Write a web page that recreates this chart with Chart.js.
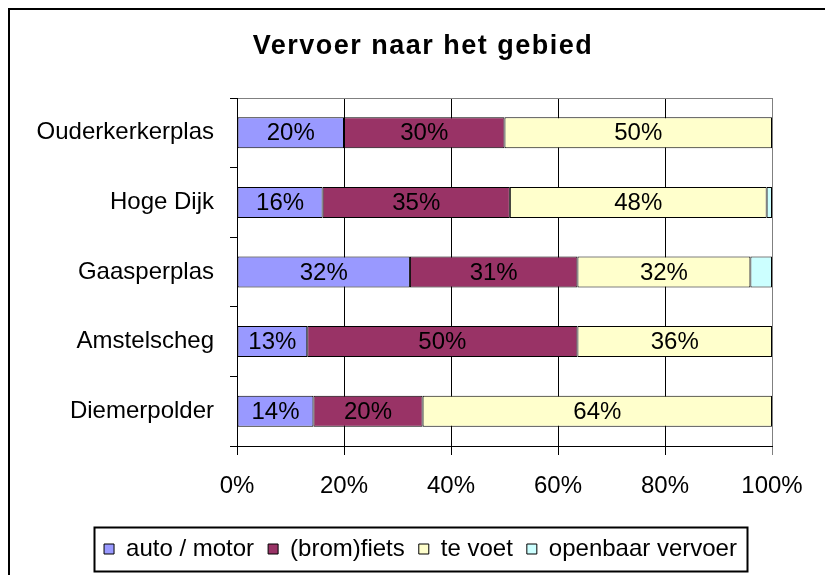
<!DOCTYPE html>
<html>
<head>
<meta charset="utf-8">
<script src="https://cdn.jsdelivr.net/npm/chart.js@4/dist/chart.umd.min.js"></script>
<style>
  html, body { margin: 0; padding: 0; background: #fff; overflow: hidden; }
  #wrap { width: 825px; height: 575px; }
</style>
</head>
<body>
<div id="wrap"><canvas id="chart" width="825" height="575"></canvas></div>
<script>
// categorieën (van boven naar beneden)
const gebieden = ['Ouderkerkerplas', 'Hoge Dijk', 'Gaasperplas', 'Amstelscheg', 'Diemerpolder'];

// percentages per vervoerswijze (zoals in het plaatje)
const autoMotor = [20, 16, 32, 13, 14];
const bromFiets = [30, 35, 31, 50, 20];
const teVoet = [50, 48, 32, 36, 64];
const openbaarVervoer = [0, 1, 4, 0, 0];

const xTicks = [0, 20, 40, 60, 80, 100];

const titel = 'Vervoer naar het gebied';

const series = [
  { label: 'auto / motor', values: autoMotor, color: '#9999FF', showLabel: true },
  { label: '(brom)fiets', values: bromFiets, color: '#993366', showLabel: true },
  { label: 'te voet', values: teVoet, color: '#FFFFCC', showLabel: true },
  { label: 'openbaar vervoer', values: openbaarVervoer, color: '#CCFFFF', showLabel: false }
];

// 100% gestapeld: elke rij naar 100 schalen
const totals = gebieden.map((g, i) => series.reduce((s, d) => s + d.values[i], 0));

const FONT = "'Liberation Sans', Arial, sans-serif";
Chart.defaults.font.family = FONT;
Chart.defaults.color = '#000';

// witte achtergrond + kader
const frame = {
  id: 'frame',
  beforeDraw(chart) {
    const ctx = chart.ctx;
    ctx.save();
    ctx.fillStyle = '#fff';
    ctx.fillRect(0, 0, chart.width, chart.height);
    ctx.strokeStyle = '#000';
    ctx.lineWidth = 2;
    ctx.beginPath();
    ctx.moveTo(9, chart.height + 5);
    ctx.lineTo(9, 9);
    ctx.lineTo(chart.width + 5, 9);
    ctx.stroke();
    ctx.restore();
  }
};

// titel met wat letterafstand (Chart.js title kan dat niet)
const titlePlugin = {
  id: 'titlePlugin',
  afterDraw(chart) {
    const ctx = chart.ctx;
    ctx.save();
    ctx.font = 'bold 27px ' + FONT;
    ctx.fillStyle = '#000';
    ctx.textAlign = 'center';
    ctx.textBaseline = 'middle';
    if ('letterSpacing' in ctx) ctx.letterSpacing = '1.5px';
    ctx.fillText(titel, 423, 47);
    ctx.restore();
  }
};

// percentages in de balken
const barLabels = {
  id: 'barLabels',
  afterDatasetsDraw(chart) {
    const ctx = chart.ctx;
    ctx.save();
    ctx.font = '24px ' + FONT;
    ctx.fillStyle = '#000';
    ctx.textAlign = 'center';
    ctx.textBaseline = 'middle';
    chart.data.datasets.forEach((ds, di) => {
      if (!series[di].showLabel) return;
      chart.getDatasetMeta(di).data.forEach((bar, i) => {
        const raw = series[di].values[i];
        if (!raw) return;
        const p = bar.getCenterPoint();
        ctx.fillText(raw + '%', p.x, p.y + 1);
      });
    });
    ctx.restore();
  }
};

// rand om de legenda
const legendBox = {
  id: 'legendBox',
  afterDraw(chart) {
    const boxes = chart.legend && chart.legend.legendHitBoxes;
    if (!boxes || !boxes.length) return;
    const left = Math.min(...boxes.map(b => b.left)) - 10;
    const right = Math.max(...boxes.map(b => b.left + b.width)) + 10;
    const top = boxes[0].top - 10;
    const bottom = boxes[0].top + boxes[0].height + 10;
    const ctx = chart.ctx;
    ctx.save();
    ctx.strokeStyle = '#000';
    ctx.lineWidth = 2;
    ctx.strokeRect(Math.round(left) + 0.5, Math.round(top) + 0.5, Math.round(right - left), Math.round(bottom - top));
    ctx.restore();
  }
};

new Chart(document.getElementById('chart'), {
  type: 'bar',
  data: {
    labels: gebieden,
    datasets: series.map(s => ({
      label: s.label,
      data: s.values.map((v, i) => v / totals[i] * 100),
      backgroundColor: s.color,
      borderColor: '#000',
      borderWidth: 1,
      borderSkipped: false,
      categoryPercentage: 1,
      barPercentage: 0.445
    }))
  },
  options: {
    indexAxis: 'y',
    responsive: false,
    animation: false,
    layout: { padding: { left: 25, right: 9, top: 98, bottom: 4 } },
    plugins: {
      title: { display: false },
      legend: {
        position: 'bottom',
        labels: {
          font: { size: 24, family: FONT },
          color: '#000',
          boxWidth: 10,
          boxHeight: 10,
          padding: 14
        }
      },
      tooltip: { enabled: false }
    },
    scales: {
      x: {
        stacked: true,
        min: 0,
        max: 100,
        afterBuildTicks: s => { s.ticks = xTicks.map(v => ({ value: v })); },
        ticks: {
          font: { size: 24 },
          color: '#000',
          padding: 17,
          callback: v => v + '%'
        },
        grid: {
          color: c => c.tick && c.tick.value === 100 ? '#808080' : '#000',
          tickColor: c => c.tick && c.tick.value === 100 ? '#808080' : '#000',
          tickLength: 9,
          lineWidth: 1
        },
        border: { color: '#000', width: 1 },
        afterFit: s => { s.height = 77; }
      },
      y: {
        stacked: true,
        ticks: { font: { size: 24 }, color: '#000', padding: 16 },
        grid: {
          offset: true,
          color: c => c.index === 0 ? '#808080' : 'rgba(0,0,0,0)',
          tickColor: '#000',
          tickLength: 7
        },
        border: { color: '#000', width: 1 },
        afterFit: s => { s.width = 212; }
      },
      yRight: {
        position: 'right',
        display: true,
        grid: { display: false },
        border: { display: false },
        ticks: { display: false },
        afterFit: s => { s.width = 44; }
      }
    }
  },
  plugins: [frame, titlePlugin, barLabels, legendBox]
});
</script>
</body>
</html>
